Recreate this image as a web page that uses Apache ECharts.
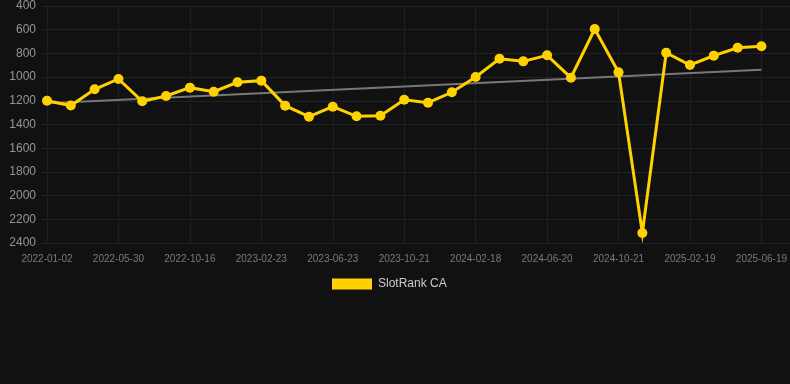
<!DOCTYPE html>
<html>
<head>
<meta charset="utf-8">
<script src="https://cdn.jsdelivr.net/npm/echarts@6/dist/echarts.min.js"></script>
<style>
  html, body { margin: 0; padding: 0; background: #111111; }
  #chart { width: 790px; height: 384px; }
</style>
</head>
<body>
<div id="chart"></div>
<script>
// dates of each snapshot (only every third one is labelled)
const dates = [
  "2022-01-02", "2022-02-20", "2022-04-10", "2022-05-30", "2022-07-15", "2022-08-31",
  "2022-10-16", "2022-11-29", "2023-01-10", "2023-02-23", "2023-04-04", "2023-05-14",
  "2023-06-23", "2023-08-02", "2023-09-11", "2023-10-21", "2023-11-30", "2024-01-09",
  "2024-02-18", "2024-03-29", "2024-05-09", "2024-06-20", "2024-07-31", "2024-09-10",
  "2024-10-21", "2024-11-30", "2025-01-09", "2025-02-19", "2025-03-31", "2025-05-10",
  "2025-06-19"
]

// rank values (lower is better, axis is inverted)
const rankCA = [
  1200, 1240, 1103, 1016, 1204, 1159, 1089, 1123, 1044, 1030,
  1241, 1334, 1250, 1331, 1326, 1191, 1216, 1128, 999, 845,
  867, 816, 1005, 594, 960, 2316, 794, 898, 819, 752,
  740
]

// trend line end points
const trendStart = 1221
const trendEnd = 938

const yMin = 400
const yMax = 2400
const yStep = 200

const font = "Liberation Sans, Arial, sans-serif"
const yellow = "#FFD100"

const chart = echarts.init(document.getElementById("chart"))

const option = {
  backgroundColor: "#111111",
  animation: false,
  textStyle: { fontFamily: font },
  legend: {
    data: ["SlotRank CA"],
    left: 332,
    top: 278,
    padding: 0,
    icon: "rect",
    itemWidth: 40,
    itemHeight: 11,
    itemGap: 10,
    textStyle: { color: "#cccccc", fontSize: 12, fontFamily: font, padding: [0, 0, 0, 1] },
  },
  grid: [
    { left: 47, right: 28, top: 6, bottom: 141 },
    // wider grid only for the horizontal guide lines
    { left: 42, right: 0, top: 6, bottom: 141 },
  ],
  xAxis: [
    {
      type: "category",
      data: dates,
      gridIndex: 0,
      boundaryGap: false,
      axisLine: { show: false },
      axisTick: { show: false },
      axisLabel: {
        interval: 2,
        color: "#7a7a7a",
        fontSize: 10,
        margin: 11,
        fontFamily: font,
      },
      splitLine: {
        show: true,
        interval: 2,
        lineStyle: { color: "#1f1f1f", width: 1 },
      },
    },
    {
      type: "value",
      gridIndex: 1,
      min: 0,
      max: 1,
      show: false,
    },
  ],
  yAxis: [
    {
      type: "value",
      gridIndex: 0,
      inverse: true,
      min: yMin,
      max: yMax,
      interval: yStep,
      axisLine: { show: false },
      axisTick: { show: false },
      axisLabel: {
        color: "#959595",
        fontSize: 12,
        margin: 11,
        fontFamily: font,
        formatter: (v) => String(v),
      },
      splitLine: { show: false },
    },
    {
      type: "value",
      gridIndex: 1,
      inverse: true,
      min: yMin,
      max: yMax,
      interval: yStep,
      axisLine: { show: false },
      axisTick: { show: false },
      axisLabel: { show: false },
      splitLine: {
        show: true,
        lineStyle: { color: "#222222", width: 1 },
      },
    },
  ],
  series: [
    {
      name: "trend",
      type: "line",
      xAxisIndex: 0,
      yAxisIndex: 0,
      data: [[0, trendStart], [dates.length - 1, trendEnd]],
      symbol: "none",
      lineStyle: { color: "#777777", width: 2 },
      z: 2,
    },
    {
      name: "SlotRank CA",
      type: "line",
      xAxisIndex: 0,
      yAxisIndex: 0,
      data: rankCA,
      symbol: "circle",
      symbolSize: 10,
      itemStyle: { color: yellow },
      lineStyle: { color: yellow, width: 3, join: "miter", miterLimit: 10 },
      z: 3,
    },
  ],
}

chart.setOption(option)
</script>
</body>
</html>
